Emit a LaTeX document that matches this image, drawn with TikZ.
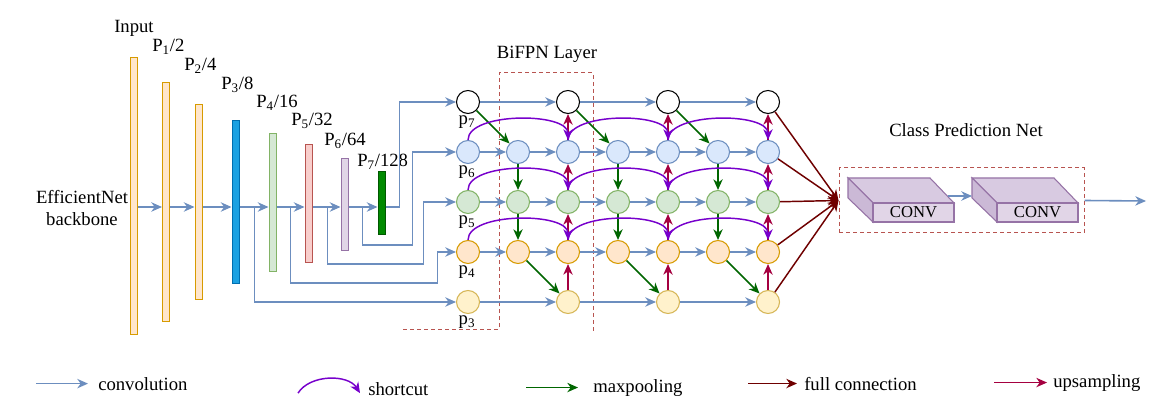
\documentclass[tikz,border=0pt]{standalone}
\usepackage{fontspec}
\setmainfont{Liberation Serif}
\usetikzlibrary{arrows.meta}
\definecolor{convcol}{HTML}{6C8EBF}
\definecolor{scutcol}{HTML}{7700CC}
\definecolor{poolcol}{HTML}{006600}
\definecolor{fullcol}{HTML}{6F0000}
\definecolor{upcol}{HTML}{A50040}
\definecolor{boxcol}{HTML}{B85450}
\definecolor{orfill}{HTML}{FFE6CC}
\definecolor{ordraw}{HTML}{D79B00}
\definecolor{blfill}{HTML}{1BA1E2}
\definecolor{bldraw}{HTML}{006EAF}
\definecolor{ltblue}{HTML}{DAE8FC}
\definecolor{grfill}{HTML}{D5E8D4}
\definecolor{grdraw}{HTML}{82B366}
\definecolor{rdfill}{HTML}{F8CECC}
\definecolor{pufill}{HTML}{E1D5E7}
\definecolor{pudraw}{HTML}{9673A6}
\definecolor{dgfill}{HTML}{008A00}
\definecolor{dgdraw}{HTML}{005700}
\definecolor{yefill}{HTML}{FFF2CC}
\definecolor{yedraw}{HTML}{D6B656}
\definecolor{cubetop}{HTML}{D8CAE1}
\definecolor{cubeside}{HTML}{CBB9D6}
\tikzset{
    conv/.style={->,draw=convcol,line width=1.2pt},
    scut/.style={->,draw=scutcol,line width=1.1pt},
    pool/.style={->,draw=poolcol,line width=1.1pt},
    full/.style={->,draw=fullcol,line width=1.1pt},
    upsm/.style={->,draw=upcol,line width=1.1pt},
    bar/.style={draw,rectangle,minimum width=5.25pt,inner sep=0pt,line width=0.75pt},
    fp/.style={circle,draw,minimum size=17.25pt,inner sep=0pt,line width=0.8pt},
    dbox/.style={draw=boxcol,dash pattern=on 3pt off 2.25pt,line width=0.75pt},
    cube/.style={draw=pudraw,line width=0.8pt},
    lgd/.style={inner sep=0pt,anchor=base west},
    plab/.style={inner sep=0pt,anchor=base},
}
\begin{document}
\begin{tikzpicture}[x=0.75pt,y=-0.75pt,>={Stealth[length=8pt,width=7pt,inset=2.5pt]},font=\fontsize{14}{16}\selectfont]
                \useasboundingbox (0,0) rectangle (1176,409);
                \fill[white] (0,0) rectangle (1176,409);
                \coordinate (ax) at (0,207);
                \node[align=center] (eff) at (82,208) {EfficientNet\\backbone};
                \node[bar,fill=orfill,draw=ordraw,minimum height=207pt] (bin) at (133.5,196) {};
                \node[bar,fill=orfill,draw=ordraw,minimum height=178.5pt] (bp1) at (166,202) {};
                \node[bar,fill=orfill,draw=ordraw,minimum height=145.5pt] (bp2) at (198.5,202) {};
                \node[bar,fill=blfill,draw=bldraw,minimum height=122.25pt] (bp3) at (235.5,202.5) {};
                \node[bar,fill=grfill,draw=grdraw,minimum height=103.5pt] (bp4) at (272.5,203) {};
                \node[bar,fill=rdfill,draw=boxcol,minimum height=88.5pt] (bp5) at (308.5,204) {};
                \node[bar,fill=pufill,draw=pudraw,minimum height=69pt] (bp6) at (344.5,205) {};
                \node[bar,fill=dgfill,draw=dgdraw,minimum height=47.25pt] (bp7) at (381.5,203.5) {};
                \node[lgd] (tin) at (114,33) {Input};
                \node[lgd] (tp1) at (152,52) {P\textsubscript{1}/2};
                \node[lgd] (tp2) at (184,71) {P\textsubscript{2}/4};
                \node[lgd] (tp3) at (221,90) {P\textsubscript{3}/8};
                \node[lgd] (tp4) at (256,108) {P\textsubscript{4}/16};
                \node[lgd] (tp5) at (291,126) {P\textsubscript{5}/32};
                \node[lgd] (tp6) at (324,146) {P\textsubscript{6}/64};
                \node[lgd] (tp7) at (357,167) {P\textsubscript{7}/128};
                \foreach \a/\b in {bin/bp1,bp1/bp2,bp2/bp3,bp3/bp4,bp4/bp5,bp5/bp6,bp6/bp7}
                    \draw[conv] (\a.east|-ax) -- (\b.west|-ax);
                \draw[dbox] (403,329) -- (499,329) -- (499,73) -- (593,73) -- (593,333);
                \node[plab] (tbi) at (547,59) {BiFPN Layer};
                \foreach \c in {0,2,4,6} {
                    \node[fp,fill=white,draw=black] (n7\c) at ({468+50*\c},102) {};
                    \node[fp,fill=yefill,draw=yedraw] (n3\c) at ({468+50*\c},302) {};
                }
                \foreach \c in {0,...,6} {
                    \node[fp,fill=ltblue,draw=convcol] (n6\c) at ({468+50*\c},152) {};
                    \node[fp,fill=grfill,draw=grdraw] (n5\c) at ({468+50*\c},202) {};
                    \node[fp,fill=orfill,draw=ordraw] (n4\c) at ({468+50*\c},252) {};
                }
                \node[plab] (l7) at (467,125) {p\textsubscript{7}};
                \node[plab] (l6) at (467,175) {p\textsubscript{6}};
                \node[plab] (l5) at (467,225) {p\textsubscript{5}};
                \node[plab] (l4) at (467,275) {p\textsubscript{4}};
                \node[plab] (l3) at (467,325) {p\textsubscript{3}};
                \draw[conv] (bp3.east|-ax) ++(15,0) |- (n30);
                \draw[conv] (bp4.east|-ax) ++(14,0) |- ++(147,76) |- (n40);
                \draw[conv] (bp5.east|-ax) ++(15,0) |- ++(96,57) |- (n50);
                \draw[conv] (bp6.east|-ax) ++(14,0) |- ++(50,38) |- (n60);
                \draw[conv] (bp7.east|-ax) -- ++(14,0) |- (n70);
                \foreach \r in {6,5,4}
                    \foreach \c [count=\d] in {0,...,5}
                        \draw[conv] (n\r\c) -- (n\r\d);
                \foreach \r in {7,3}
                    \foreach \c/\d in {0/2,2/4,4/6}
                        \draw[conv] (n\r\c) -- (n\r\d);
                \foreach \c/\d/\e in {0/1/2,2/3/4,4/5/6} {
                    \draw[pool] (n7\c) -- (n6\d);
                    \draw[pool] (n6\d) -- (n5\d);
                    \draw[pool] (n5\d) -- (n4\d);
                    \draw[pool] (n4\d) -- (n3\e);
                    \draw[upsm] (n3\e) -- (n4\e);
                    \draw[upsm] (n4\e) -- (n5\e);
                    \draw[upsm] (n5\e) -- (n6\e);
                    \draw[upsm] (n6\e) -- (n7\e);
                }
                \foreach \r in {6,5,4}
                    \foreach \c/\d in {0/2,2/4,4/6}
                        \draw[scut] (n\r\c.north) .. controls +(0,-28) and +(0,-28) .. (n\r\d.north);
                \node[dbox,minimum width=183.75pt,minimum height=48.75pt] (cpn) at (961.5,200.5) {};
                \node[plab] (tcp) at (966,137) {Class Prediction Net};
                \foreach \r in {7,6,5,4,3}
                    \draw[full] (n\r6) -- (cpn.west);
                \foreach \o/\nm in {0/cv1,124/cv2} {
                    \filldraw[cube,fill=cubetop] ({848+\o},178) -- ({930+\o},178) -- ({954+\o},203) -- ({873+\o},203) -- cycle;
                    \filldraw[cube,fill=cubeside] ({848+\o},178) -- ({873+\o},203) -- ({873+\o},222) -- ({848+\o},198) -- cycle;
                    \node[cube,fill=pufill,minimum width=60.75pt,minimum height=14.25pt,inner sep=0pt,font=\fontsize{12.5}{14}\selectfont] (\nm) at ({913.5+\o},212.5) {CONV};
                }
                \coordinate (cvo) at (948,196);
                \coordinate (cvi) at (972,196);
                \draw[conv] (cvo) -- (cvi);
                \coordinate (cout) at (1146,201);
                \draw[conv] (cpn.east) -- (cout);
                \node[lgd] (lgconv) at (98,390) {convolution};
                \node[lgd] (lgscut) at (368,395) {shortcut};
                \node[lgd] (lgpool) at (593,392) {maxpooling};
                \node[lgd] (lgfull) at (804,390) {full connection};
                \node[lgd] (lgup) at (1053,387) {upsampling};
                \draw[conv] (lgconv.west) ++(-62,0) -- ++(52,0);
                \draw[scut] (lgscut.west) ++(-70,4.5) .. controls +(12,-19) and +(-12,-19) .. ++(62,0);
                \draw[pool] (lgpool.west) ++(-67,0) -- ++(52,0);
                \draw[full] (lgfull.west) ++(-56,0) -- ++(49,0);
                \draw[upsm] (lgup.west) ++(-59,0) -- ++(53,0);
            \end{tikzpicture}
\end{document}
